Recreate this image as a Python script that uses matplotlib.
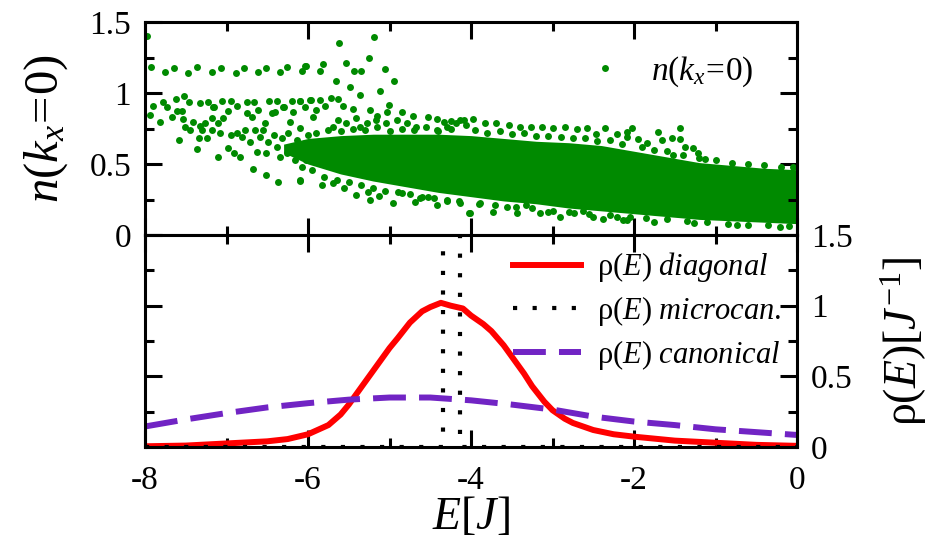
import matplotlib
matplotlib.use("Agg")
import matplotlib.pyplot as plt
from matplotlib.lines import Line2D

plt.rcParams['font.family'] = ['Liberation Serif', 'DejaVu Serif']
plt.rcParams['mathtext.fontset'] = 'custom'
plt.rcParams['mathtext.rm'] = 'Liberation Serif'
plt.rcParams['mathtext.it'] = 'Liberation Serif:italic'
plt.rcParams['axes.unicode_minus'] = False

green = '#008a00'
red = '#ff0000'
purple = '#7124c4'

# n(k_x=0): dense core of the cloud (lower / upper edge) ...
E_core = [-6.3, -6.0, -5.6, -5.2, -4.8, -4.4, -4.0, -3.6, -3.2, -2.8, -2.4, -2.0, -1.6, -1.2, -0.8, -0.4, 0.0]
n_core_lo = [0.58, 0.50, 0.43, 0.38, 0.34, 0.30, 0.27, 0.24, 0.22, 0.19, 0.17, 0.15, 0.13, 0.11, 0.10, 0.09, 0.08]
n_core_hi = [0.64, 0.68, 0.70, 0.71, 0.71, 0.71, 0.70, 0.68, 0.66, 0.65, 0.63, 0.59, 0.55, 0.51, 0.49, 0.47, 0.46]

# ... and the scattered points around it
pts_E = [-7.97, -7.93, -7.75, -7.65, -7.47, -7.36, -7.18, -7.07, -6.89, -6.78, -6.62, -6.51, -6.34, -6.26,
         -6.08, -6.02, -6.04, -5.85, -5.82, -5.62, -5.53, -5.43, -5.35, -5.19, -5.25, -5.06, -4.95, -5.12,
         -5.36, -5.48, -5.66,
         -7.90, -7.78, -7.73, -7.62, -7.52, -7.46, -7.33, -7.23, -7.17, -7.05, -6.95, -6.87, -6.75, -6.66,
         -6.48, -6.38, -6.31, -6.20, -6.10, -6.04, -5.97, -6.10, -5.96, -5.85, -5.72, -5.63, -5.79, -5.57,
         -5.45, -5.24, -5.15, -5.01, -5.03, -4.85, -4.71, -4.53, -4.42, -4.33, -4.24, -4.13, -4.06,
         -4.09, -3.97, -3.83, -3.69, -3.54, -3.40, -3.26, -3.13, -2.99, -2.85, -2.70, -2.58, -2.47, -2.35,
         -2.21, -2.09,
         -2.02, -2.09, -1.95, -1.84, -1.71, -1.66, -1.54, -1.44, -1.44, -1.37, -1.28, -1.22, -1.13, -1.52,
         -6.10, -5.83, -5.69, -5.56, -5.41, -5.26, -5.24, -5.13, -4.96, -4.85, -4.69, -4.63, -4.53, -4.42,
         -4.30, -4.14, -4.03,
         -6.51, -6.37, -6.67, -7.11, -7.36, -7.58, -6.10,
         -4.01, -3.89, -3.73, -3.56, -3.44, -3.32, -3.15, -3.05, -2.91, -2.74, -2.62, -2.50, -2.38, -2.21,
         -2.09, -2.13, -1.76, -1.27, -0.74, -0.21,
         -7.94, -7.82, -7.67, -7.61, -7.55, -7.53, -7.51, -7.45, -7.41, -7.32, -7.30, -7.34, -7.26, -7.24,
         -7.18, -7.18, -7.16, -7.10, -7.08, -7.04, -6.98, -6.98, -6.94, -6.91, -6.87, -6.83, -6.81, -6.77,
         -6.75, -6.71, -6.69, -6.65, -6.63, -6.61, -6.59, -6.55, -6.53, -6.51, -6.49, -6.44, -6.42, -6.40,
         -6.38, -6.35, -6.32, -6.30, -6.26, -6.24, -6.22, -6.20, -6.18, -6.16, -6.14, -6.10, -6.08, -6.06,
         -6.04, -6.02, -6.00,
         -5.94, -5.90, -5.69, -5.63, -5.53, -5.41, -5.36, -5.28, -5.16, -5.04, -4.91, -4.79, -4.67, -4.42,
         -4.30, -4.18,
         -5.90, -5.75, -5.60, -5.45, -5.30, -5.15, -5.00, -4.85, -4.70, -4.55, -4.40, -4.25, -3.95, -3.80,
         -3.65, -3.50, -3.35, -3.20, -3.05, -2.90, -2.75, -2.60, -2.45, -2.30, -2.15, -1.90, -1.75, -1.60,
         -1.40, -1.20, -1.00, -0.80, -0.60, -0.40, -0.20, -0.05,
         -5.95, -5.80, -5.65, -5.50, -5.35, -5.20, -5.05, -4.90, -4.75, -4.60, -4.45, -4.30, -4.15, -3.90,
         -3.70, -3.45, -3.25, -3.00, -2.80, -2.55, -2.30, -2.05, -1.85, -1.60, -1.35, -1.10, -0.85, -0.60,
         -0.35, -0.10]
pts_n = [1.40, 1.186, 1.146, 1.174, 1.139, 1.18, 1.15, 1.174, 1.143, 1.178, 1.15, 1.178, 1.148, 1.18,
         1.155, 1.19, 1.19, 1.157, 1.204, 1.35, 1.21, 1.157, 1.157, 1.392, 1.248, 1.166, 1.085, 1.016,
         0.986, 1.045, 1.087,
         0.909, 0.939, 0.899, 0.955, 0.979, 0.939, 0.932, 0.939, 0.899, 0.946, 0.946, 0.909, 0.939, 0.939,
         0.944, 0.944, 0.904, 0.944, 0.944, 0.899, 0.951, 0.946, 0.951, 0.951, 0.967, 0.958, 0.909, 0.909,
         0.885, 0.880, 0.838, 0.914, 0.869, 0.869, 0.838, 0.834, 0.817, 0.798, 0.805, 0.81, 0.775,
         0.81, 0.814, 0.79, 0.79, 0.775, 0.763, 0.758, 0.758, 0.751, 0.758, 0.744, 0.751, 0.711, 0.751,
         0.714, 0.726,
         0.756, 0.692, 0.674, 0.646, 0.726, 0.669, 0.681, 0.751, 0.676, 0.617, 0.615, 0.575, 0.533, 0.564,
         0.387, 0.352, 0.368, 0.333, 0.282, 0.305, 0.246, 0.277, 0.228, 0.293, 0.235, 0.258, 0.270, 0.211,
         0.242, 0.228, 0.152,
         0.423, 0.371, 0.465, 0.552, 0.603, 0.669, 0.383,
         0.157, 0.223, 0.164, 0.199, 0.157, 0.211, 0.152, 0.164, 0.129, 0.152, 0.171, 0.129, 0.110, 0.129,
         0.106, 0.106, 0.094, 0.082, 0.070, 0.059,
         0.845, 0.793, 0.833, 0.876, 0.876, 0.815, 0.763, 0.739, 0.798, 0.768, 0.739, 0.68, 0.791, 0.680,
         0.822, 0.739, 0.899, 0.786, 0.716, 0.822, 0.876, 0.61, 0.704, 0.580, 0.720, 0.552, 0.692, 0.739,
         0.857, 0.657, 0.833, 0.739, 0.587, 0.880, 0.692, 0.739, 0.786, 0.580, 0.657, 0.862, 0.704, 0.869,
         0.622, 0.552, 0.681, 0.904, 0.575, 0.716, 0.798, 0.622, 0.869, 0.528, 0.669, 0.751, 0.481, 0.575,
         0.645, 0.528, 0.704,
         0.833, 0.880, 0.763, 0.810, 0.786, 0.822, 0.763, 0.786, 0.810, 0.786, 0.810, 0.786, 0.763, 0.739,
         0.763, 0.786,
         0.72, 0.74, 0.73, 0.75, 0.74, 0.76, 0.73, 0.75, 0.74, 0.76, 0.73, 0.75, 0.74, 0.72,
         0.73, 0.71, 0.72, 0.70, 0.70, 0.69, 0.68, 0.68, 0.66, 0.67, 0.64, 0.62, 0.60, 0.59,
         0.56, 0.54, 0.53, 0.51, 0.50, 0.49, 0.48, 0.48,
         0.46, 0.41, 0.39, 0.37, 0.35, 0.33, 0.31, 0.30, 0.29, 0.27, 0.26, 0.25, 0.24, 0.22,
         0.21, 0.20, 0.19, 0.17, 0.16, 0.15, 0.14, 0.13, 0.12, 0.11, 0.10, 0.09, 0.08, 0.07,
         0.07, 0.06]

# rho(E) curves
E_diag = [-8, -7.5, -7, -6.5, -6.25, -6, -5.75, -5.6, -5.5, -5.4, -5.25, -5.1, -5, -4.9, -4.75, -4.6,
          -4.5, -4.37, -4.25, -4.1, -4, -3.85, -3.75, -3.6, -3.5, -3.35, -3.25, -3.1, -3, -2.85, -2.75,
          -2.5, -2.25, -2, -1.5, -1, -0.5, 0]
rho_diag = [0.005, 0.01, 0.025, 0.04, 0.056, 0.09, 0.155, 0.23, 0.30, 0.38, 0.50, 0.62, 0.70, 0.77,
            0.88, 0.96, 0.99, 1.02, 1.0, 0.98, 0.93, 0.87, 0.82, 0.72, 0.64, 0.52, 0.43, 0.32, 0.26, 0.20,
            0.17, 0.12, 0.09, 0.073, 0.045, 0.03, 0.015, 0.008]
E_micro = [-8, -4.34, -4.34, -4.135, -4.135, 0]
rho_micro = [0, 0, 4.9, 4.9, 0, 0]
E_can = [-8, -7.5, -7, -6.5, -6, -5.5, -5, -4.5, -4, -3.5, -3, -2.5, -2, -1.5, -1, -0.5, 0]
rho_can = [0.145, 0.195, 0.24, 0.28, 0.31, 0.335, 0.35, 0.35, 0.33, 0.30, 0.265, 0.215, 0.18, 0.155,
           0.125, 0.105, 0.085]

nk_label = r'$n(k_x\!=\!\mathit{0})$'

fig = plt.figure(figsize=(9.37, 5.41), dpi=100)
ax1 = fig.add_axes([0.1548, 0.5656, 0.6958, 0.3937])
ax2 = fig.add_axes([0.1548, 0.1738, 0.6958, 0.3918])

# top panel
ax1.fill_between(E_core, n_core_lo, n_core_hi, color=green, lw=0)
ax1.plot(pts_E, pts_n, 'o', color=green, ms=5, mec='none')
h = Line2D([], [], marker='o', ls='', color=green, ms=5, mec='none')
ax1.legend([h], [nk_label], loc='upper right', frameon=False, fontsize=24,
           handlelength=1.6, handletextpad=0.6, bbox_to_anchor=(0.98, 0.99))
ax1.set_xlim(-8, 0)
ax1.set_ylim(0, 1.5)
ax1.set_yticks([0, 0.5, 1, 1.5])
ax1.set_yticklabels(['0', '0.5', '1', '1.5'])
ax1.set_yticks([0.25, 0.75, 1.25], minor=True)
ax1.set_ylabel(nk_label, fontsize=35)
ax1.yaxis.set_label_coords(-0.115, 0.5)

# bottom panel
ax2.plot(E_diag, rho_diag, color=red, lw=4.3, label='ρ' + r'$(E)\ diagonal$')
ax2.plot(E_micro, rho_micro, color='black', lw=3, ls=(0, (1, 3.7)), label='ρ' + r'$(E)\ microcan.$')
ax2.plot(E_can, rho_can, color=purple, lw=4.3, ls=(0, (5.5, 2.2)), label='ρ' + r'$(E)\ canonical$')
ax2.legend(loc='upper right', frameon=False, fontsize=22, handlelength=2.2, handletextpad=0.55,
           labelspacing=0.32, borderaxespad=0.1, bbox_to_anchor=(1.0, 1.0))
ax2.set_xlim(-8, 0)
ax2.set_ylim(0, 1.5)
ax2.set_yticks([0, 0.5, 1, 1.5])
ax2.set_yticklabels(['0', '0.5', '1', '1.5'])
ax2.set_yticks([0.25, 0.75, 1.25], minor=True)
ax2.yaxis.tick_right()
ax2.yaxis.set_label_position('right')
ax2.set_ylabel('ρ' + r'$(E)[J^{\mathit{-1}}]$', fontsize=33)
ax2.yaxis.set_label_coords(1.125, 0.5)
ax2.set_xlabel(r'$E[J]$', fontsize=33, labelpad=0)

for ax in (ax1, ax2):
    ax.set_xticks([-8, -6, -4, -2, 0])
    ax.set_xticks([-7, -5, -3, -1], minor=True)
    ax.tick_params(which='both', direction='in', top=True, bottom=True, left=True, right=True,
                   width=2.2, labelsize=24, pad=10)
    ax.tick_params(which='major', length=12)
    ax.tick_params(which='minor', length=6.5)
    for s in ax.spines.values():
        s.set_linewidth(2.2)

ax1.tick_params(labelbottom=False)
ax2.tick_params(labelleft=False, labelright=True)
ax2.tick_params(axis='x', pad=13)

fig.savefig('out.png', dpi=100)
